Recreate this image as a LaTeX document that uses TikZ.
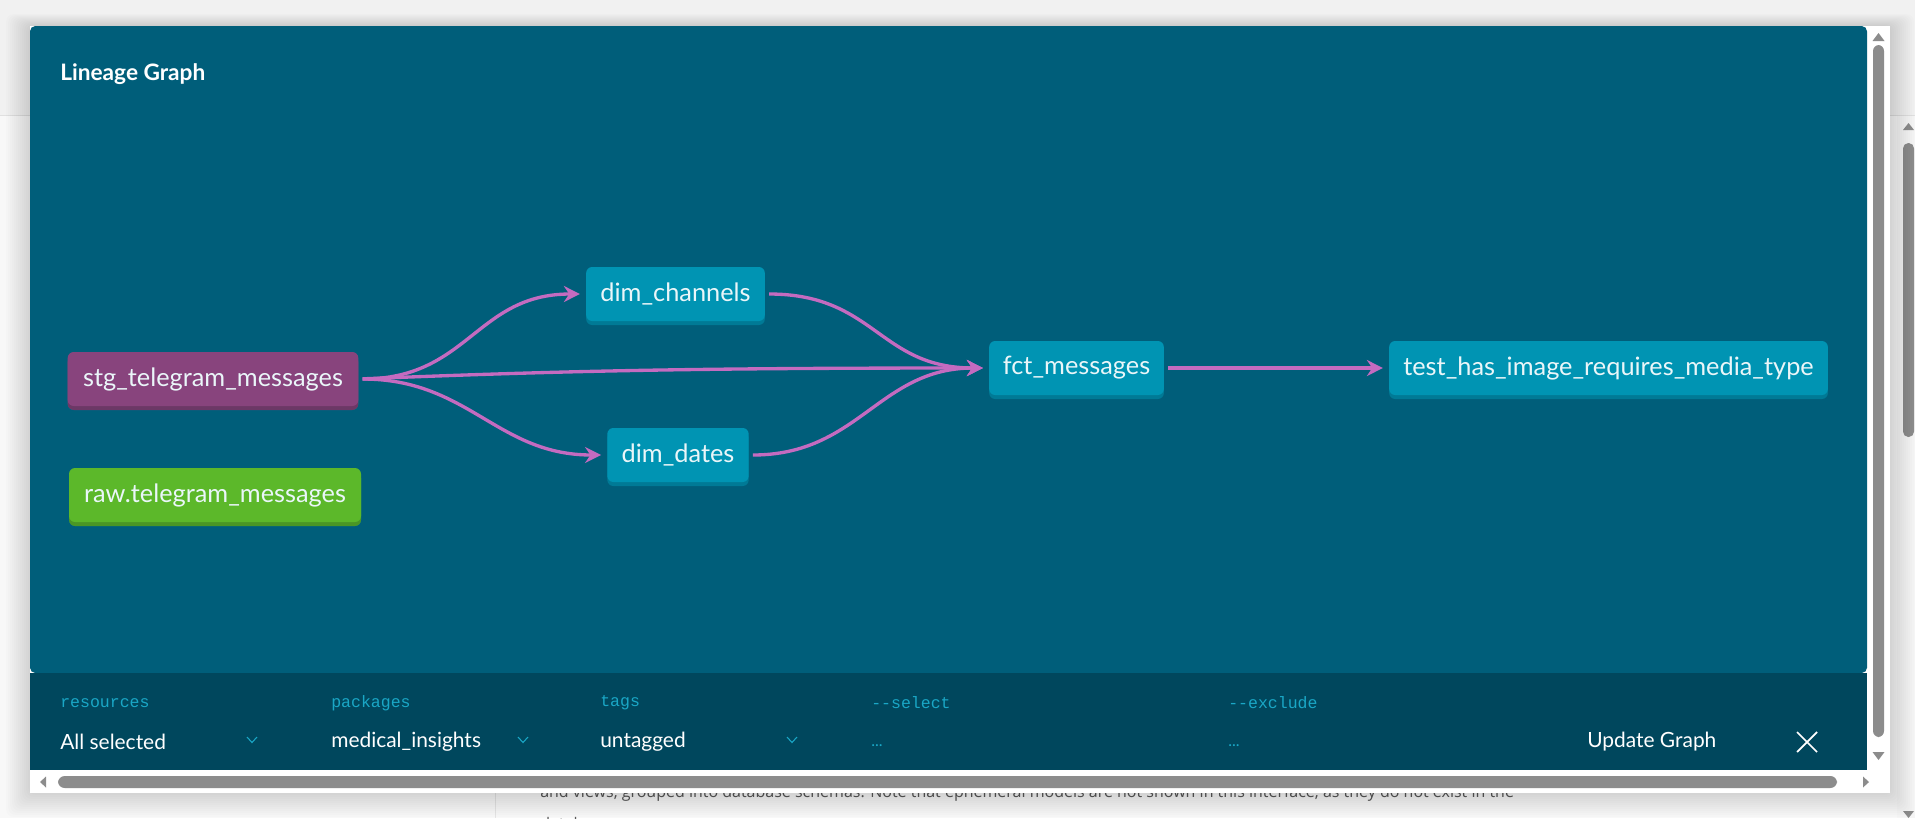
\documentclass[tikz,border=0pt]{standalone}
\usepackage{fontspec}
\setmainfont{Lato}
\newfontfamily\uimono{Liberation Mono}
\newfontfamily\pagefont{Open Sans}
\usetikzlibrary{arrows.meta,shadows}
\definecolor{pagebg}{HTML}{F8F8F8}
\definecolor{pagetop}{HTML}{F1F1F1}
\definecolor{graphbg}{HTML}{005E7A}
\definecolor{barbg}{HTML}{00475D}
\definecolor{modelteal}{HTML}{0094B3}
\definecolor{modelshade}{HTML}{007A96}
\definecolor{stgpurple}{HTML}{88447D}
\definecolor{stgshade}{HTML}{6C3866}
\definecolor{srcgreen}{HTML}{5CB82A}
\definecolor{srcshade}{HTML}{4A9625}
\definecolor{edgepink}{HTML}{C46BC0}
\definecolor{labelteal}{HTML}{1AA7C6}
\definecolor{scrollgray}{HTML}{8C8C8C}
\definecolor{nodetext}{HTML}{EAF6F9}

\begin{document}
\begin{tikzpicture}[x=0.75pt,y=-0.75pt,
    model/.style={fill=modelteal, rounded corners=4.5pt, minimum height=40.5pt, inner sep=0pt,
      text=nodetext, font=\fontsize{19}{22}\selectfont,
      general shadow={fill=modelshade, shadow xshift=0pt, shadow yshift=-3pt}},
    staging/.style={model, fill=stgpurple, general shadow={fill=stgshade, shadow xshift=0pt, shadow yshift=-3pt}},
    source/.style={model, fill=srcgreen, general shadow={fill=srcshade, shadow xshift=0pt, shadow yshift=-3pt}},
    link/.style={draw=edgepink, line width=2.5pt, -{Stealth[length=12pt,width=12pt,inset=4pt]},
      shorten <=3pt, shorten >=4.5pt},
    fieldlabel/.style={anchor=west, inner sep=0pt, text=labelteal, font=\uimono\fontsize{12.4}{14}\selectfont},
    fieldvalue/.style={anchor=west, inner sep=0pt, text=white, font=\fontsize{15.7}{18}\selectfont},
    blankvalue/.style={anchor=west, inner sep=0pt, text=labelteal, font=\fontsize{12}{14}\selectfont},
    chevron/.style={draw=labelteal, line width=0.8pt},
    scrollbit/.style={fill=scrollgray}]
  \useasboundingbox (0,0) rectangle (1915,818);

  % page behind the dialog
  \fill[pagebg] (0,0) rectangle (1915,818);
  \fill[pagetop] (0,0) rectangle (1915,115);
  \draw[black!12] (0,115.5) -- (1915,115.5);
  \draw[black!10] (495.5,790) -- (495.5,818);
  \node[anchor=base west, inner sep=0pt, text=black!65, font=\pagefont\fontsize{12}{14}\selectfont] (pagetxt) at (540,797)
    {and views, grouped into database schemas. Note that ephemeral models are not shown in this interface, as they do not exist in the};
  \node[anchor=base west, inner sep=0pt, text=black!65, font=\pagefont\fontsize{12}{14}\selectfont] (pagetxt2) at (540,829) {database.};
  \fill[black!4] (1897,116) rectangle (1915,818);
  \fill[scrollbit, rounded corners=4pt] (1903,143) rectangle (1914,437);
  \fill[scrollbit] (1903,130) -- (1914,130) -- (1908.5,123) -- cycle;
  \fill[scrollbit] (1903,811) -- (1914,811) -- (1908.5,818) -- cycle;

  % dialog and its shadow
  \foreach \s in {1,...,12}{
    \fill[black, opacity=0.012, rounded corners=6pt] ({30-2*\s},{26-\s}) rectangle ({1890+2*\s},{793+2*\s});
  }
  \fill[white] (30,26) rectangle (1890,793);
  \fill[graphbg, rounded corners=4pt] (30,673) -- (30,26) -- (1867,26) -- (1867,673) -- cycle;
  \fill[barbg] (30,673) rectangle (1867,770);

  % scrollbars
  \fill[scrollbit, rounded corners=4.5pt] (1873,45) rectangle (1884,737);
  \fill[scrollbit] (1872.5,41) -- (1884.5,41) -- (1878.5,33) -- cycle;
  \fill[scrollbit] (1872.5,752) -- (1884.5,752) -- (1878.5,760) -- cycle;
  \fill[scrollbit, rounded corners=5pt] (58,776) rectangle (1837,788);
  \fill[scrollbit] (46,776.5) -- (46,787.5) -- (40,782) -- cycle;
  \fill[scrollbit] (1863,776.5) -- (1863,787.5) -- (1869,782) -- cycle;

  \node[anchor=west, inner sep=0pt, text=white, font=\bfseries\fontsize{17}{20}\selectfont] (title) at (60,74) {Lineage Graph};

  % models
  \node[staging, minimum width=218pt] (stg) at (213,379) {stg\_telegram\_messages};
  \node[source, minimum width=219pt] (raw) at (215,495) {raw.telegram\_messages};
  \node[model, minimum width=134pt] (chan) at (675.5,294) {dim\_channels};
  \node[model, minimum width=106pt] (dates) at (678,455) {dim\_dates};
  \node[model, minimum width=131pt] (fct) at (1076.5,368) {fct\_messages};
  \node[model, minimum width=329pt] (test) at (1608.5,368) {test\_has\_image\_requires\_media\_type};

  \draw[link] (stg.east) .. controls +(110,0) and +(-110,0) .. (chan.west);
  \draw[link] (stg.east) .. controls +(110,0) and +(-110,0) .. (dates.west);
  \draw[link] (stg.east) .. controls +(200,-8) and +(-300,0) .. (fct.west);
  \draw[link] (chan.east) .. controls +(110,0) and +(-110,0) .. (fct.west);
  \draw[link] (dates.east) .. controls +(110,0) and +(-110,0) .. (fct.west);
  \draw[link] (fct.east) -- (test.west);

  % selectors
  \foreach \lbl/\val/\xx in {resources/All selected/60, packages/medical\_insights/331, tags/untagged/600}{
    \node[fieldlabel] (lbl\xx) at (\xx,703) {\lbl};
    \node[fieldvalue] (val\xx) at (\xx,742) {\val};
    \draw[chevron] ({\xx+187},737) -- ({\xx+192},742.5) -- ({\xx+197},737);
  }
  \foreach \lbl/\xx in {-{}-select/871, -{}-exclude/1228}{
    \node[fieldlabel] (lbl\xx) at (\xx,703) {\lbl};
    \node[blankvalue] (dots\xx) at (\xx,746) {...};
  }
  \node[fieldvalue] (update) at (1587,742) {Update Graph};
  \coordinate (xa) at (1797,732);
  \coordinate (xb) at (1817,752);
  \draw[white, line width=1.3pt] (xa) -- (xb) (xa |- xb) -- (xb |- xa);
\end{tikzpicture}
\end{document}
